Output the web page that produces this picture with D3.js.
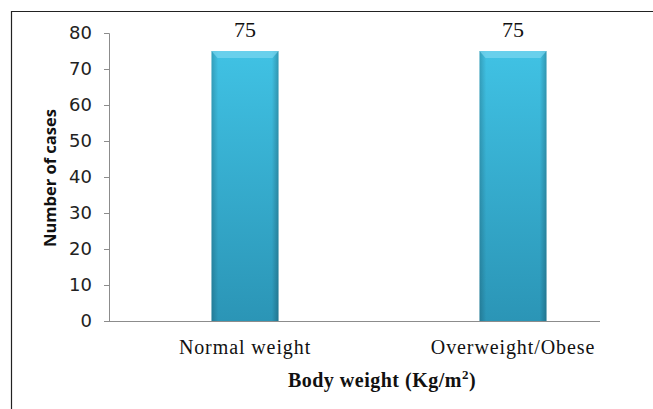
<!DOCTYPE html>
<html><head><meta charset="utf-8">
<script src="https://cdn.jsdelivr.net/npm/d3@7"></script>
<style>body{margin:0;background:#fff}svg{display:block}</style>
</head><body>
<script>
const categories = ["Normal weight", "Overweight/Obese"];
const values = [75, 75];
const yTicks = [0, 10, 20, 30, 40, 50, 60, 70, 80];

const W = 653, H = 409;
const svg = d3.select("body").append("svg").attr("width", W).attr("height", H);

const defs = svg.append("defs");
const g1 = defs.append("linearGradient").attr("id", "barGrad").attr("x1", 0).attr("y1", 0).attr("x2", 0).attr("y2", 1);
g1.append("stop").attr("offset", "0%").attr("stop-color", "#40c2e4");
g1.append("stop").attr("offset", "100%").attr("stop-color", "#2b95b6");
const g2 = defs.append("linearGradient").attr("id", "edgeGrad").attr("x1", 0).attr("y1", 0).attr("x2", 1).attr("y2", 0);
g2.append("stop").attr("offset", "0%").attr("stop-color", "#000").attr("stop-opacity", 0.18);
g2.append("stop").attr("offset", "10%").attr("stop-color", "#000").attr("stop-opacity", 0);
g2.append("stop").attr("offset", "90%").attr("stop-color", "#000").attr("stop-opacity", 0);
g2.append("stop").attr("offset", "100%").attr("stop-color", "#000").attr("stop-opacity", 0.22);

// frame
svg.append("path").attr("d", `M11.5,${H} V11.5 H${W}`).attr("fill", "none").attr("stroke", "#222").attr("stroke-width", 1.2);

const y = d3.scaleLinear().domain([0, 80]).range([321, 33]);
const x = d3.scaleBand().domain(categories).range([111, 647]).paddingInner(0.75).paddingOuter(0.375);

// y axis
const yAxis = svg.append("g").attr("transform", "translate(109,0)")
  .call(d3.axisLeft(y).tickValues(yTicks).tickSize(5).tickPadding(12));
yAxis.select(".domain").attr("stroke", "#8c8c8c");
yAxis.selectAll(".tick line").attr("stroke", "#8c8c8c");
yAxis.selectAll(".tick text").attr("font-family", "'DejaVu Sans', sans-serif").attr("font-size", 18).attr("fill", "#222");

// x axis line
svg.append("line").attr("x1", 109).attr("x2", 600).attr("y1", 321.5).attr("y2", 321.5).attr("stroke", "#8c8c8c");

// bars
const bars = svg.append("g").selectAll("g").data(categories).join("g");
bars.append("rect")
  .attr("x", d => x(d)).attr("y", (d, i) => y(values[i]))
  .attr("width", x.bandwidth()).attr("height", (d, i) => y(0) - y(values[i]))
  .attr("fill", "url(#barGrad)");
bars.append("rect")
  .attr("x", d => x(d)).attr("y", (d, i) => y(values[i]))
  .attr("width", x.bandwidth()).attr("height", (d, i) => y(0) - y(values[i]))
  .attr("fill", "url(#edgeGrad)");
// bevel top
bars.append("path")
  .attr("d", (d, i) => {
    const x0 = x(d), x1 = x0 + x.bandwidth(), t = y(values[i]);
    return `M${x0},${t} H${x1} L${x1 - 6},${t + 7} H${x0 + 6} Z`;
  })
  .attr("fill", "#7ad6ef").attr("opacity", 0.7);
bars.append("text")
  .attr("x", d => x(d) + x.bandwidth() / 2).attr("y", (d, i) => y(values[i]) - 14)
  .attr("text-anchor", "middle").attr("font-family", "'Liberation Serif', 'Times New Roman', serif")
  .attr("font-size", 22).attr("fill", "#111").text((d, i) => values[i]);

// category labels
svg.append("g").selectAll("text").data(categories).join("text")
  .attr("x", d => x(d) + x.bandwidth() / 2).attr("y", 354)
  .attr("text-anchor", "middle").attr("font-family", "'Liberation Serif', 'Times New Roman', serif")
  .attr("font-size", 20).attr("letter-spacing", 0.9).attr("fill", "#111").text(d => d);

// x title
const xt = svg.append("text").attr("x", 382).attr("y", 387).attr("text-anchor", "middle")
  .attr("font-family", "'Liberation Serif', 'Times New Roman', serif").attr("font-size", 20)
  .attr("letter-spacing", 0.5).attr("font-weight", "bold").attr("fill", "#111");
xt.append("tspan").text("Body weight (Kg/m");
xt.append("tspan").attr("font-size", 13).attr("dy", -8).text("2");
xt.append("tspan").attr("dy", 8).text(")");

// y title
svg.append("text").attr("transform", "translate(56,178) rotate(-90)").attr("text-anchor", "middle")
  .attr("font-family", "'Open Sans', sans-serif").attr("font-size", 16.5)
  .attr("font-weight", "bold").attr("fill", "#111").text("Number of cases");
</script>
</body></html>
